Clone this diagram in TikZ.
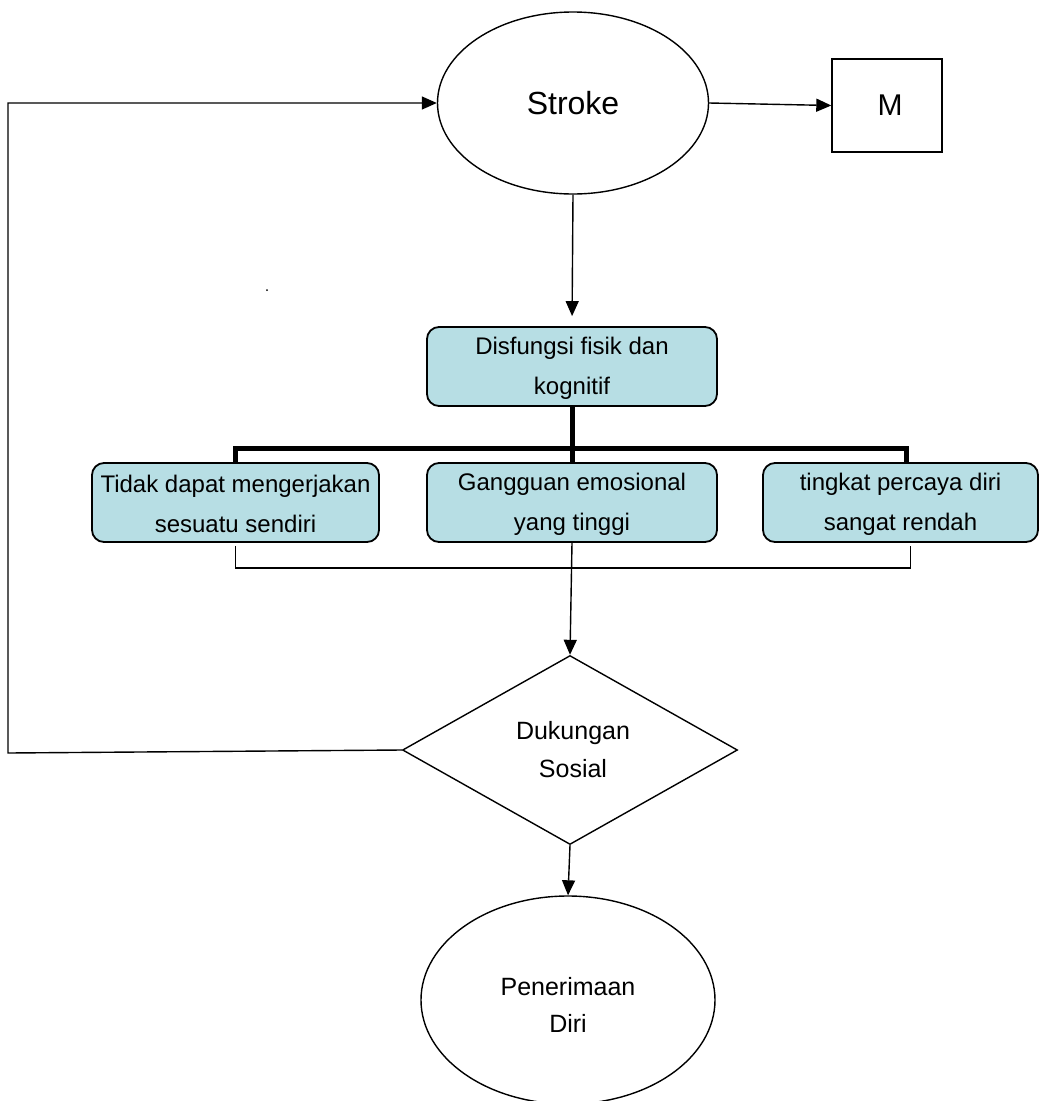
\documentclass[tikz,border=0pt]{standalone}
\usepackage{fontspec}
\setmainfont{Liberation Sans}
\usetikzlibrary{shapes.geometric,arrows.meta}
\definecolor{boxfill}{HTML}{B7DEE4}
\tikzset{
	tip/.style={-{Triangle[length=15pt,width=13pt]}},
	oval/.style={ellipse, draw, line width=1.4pt, inner sep=0pt},
	tealbox/.style={draw, rounded corners=12pt, fill=boxfill, line width=1.8pt, inner sep=0pt, align=center, font=\fontsize{24}{40}\selectfont},
	link/.style={line width=1.4pt},
	bar/.style={line width=5pt}
}

\begin{document}
\begin{tikzpicture}[x=1pt, y=-1pt]
		%%%%% START %%%%%
		
		\useasboundingbox (0, 0) rectangle (1040, 1101);
		
		\node[oval, minimum width=271, minimum height=182, font=\fontsize{32}{36}\selectfont] (stroke) at (573, 103) {Stroke};
		\node[draw, line width=1.4pt, minimum width=110, minimum height=93, inner sep=0pt, font=\fontsize{30}{36}\selectfont] (mbox) at (887, 105.5) {\raisebox{-4pt}{\hspace*{6pt}M}};
		
		\fill (267, 290) circle (1);
		
		\node[tealbox, minimum width=290, minimum height=79] (disf) at (572, 366.5) {\rule{0pt}{20pt}Disfungsi fisik dan\\kognitif};
		
		\node[tealbox, minimum width=287, minimum height=79] (tidak) at (235.5, 502.5) {\rule{0pt}{20pt}Tidak dapat mengerjakan\\sesuatu sendiri};
		\node[tealbox, minimum width=290, minimum height=79] (emosi) at (572, 502.5) {\rule{0pt}{20pt}Gangguan emosional\\yang tinggi};
		\node[tealbox, minimum width=275, minimum height=79] (percaya) at (900.5, 502.5) {\rule{0pt}{20pt}tingkat percaya diri\\sangat rendah};
		
		\node[diamond, draw, line width=1.4pt, inner sep=0pt, minimum width=335, minimum height=189, font=\fontsize{25}{38}\selectfont, align=center] (dukung) at (570, 750) {\hspace*{6pt}Dukungan\\\hspace*{6pt}Sosial};
		
		\node[oval, minimum width=294, minimum height=208, align=center, font=\fontsize{25}{37}\selectfont] (terima) at (568, 1000) {\rule{0pt}{28pt}Penerimaan\\Diri};
		
		\coordinate (barlevel) at (0, 448);
		\coordinate (bracketlevel) at (0, 568);
		\coordinate (looptop) at (8, 103);
		\coordinate (loopbot) at (8, 753);
		
		% arrows out of Stroke
		\draw[link, tip] (stroke.east) -- (mbox.west);
		\draw[link, tip, shorten >=10pt] (stroke.south) -- (disf.north);
		
		% thick tree under the first box
		\draw[bar] (disf.south) -- (disf.south |- barlevel);
		\draw[bar] (tidak.north) |- ([xshift=6pt]percaya.north |- barlevel) -- ([xshift=6pt]percaya.north);
		\draw[bar] (emosi.north) -- (emosi.north |- barlevel);
		
		% thin bracket under the three boxes
		\draw[link] ([yshift=-3pt]tidak.south) -- (tidak.south |- bracketlevel) -| ([xshift=10pt, yshift=-3pt]percaya.south);
		\draw[link, tip] (emosi.south) -- (dukung.north);
		
		% loop back to Stroke
		\draw[link, tip] (dukung.west) -- (loopbot) -- (looptop) -- (stroke.west);
		
		\draw[link, tip] (dukung.south) -- (terima.north);
		
		%%%%% END %%%%%
	\end{tikzpicture}
\end{document}
